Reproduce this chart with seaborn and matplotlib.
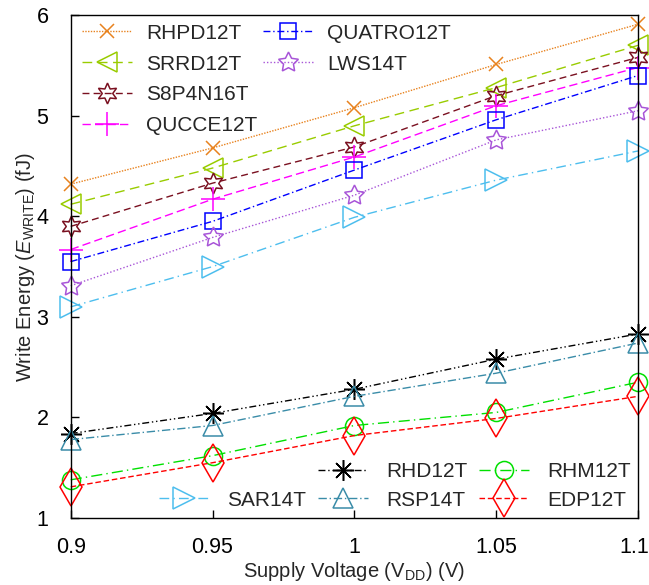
import numpy as np
import pandas as pd
import matplotlib
matplotlib.use("Agg")
import matplotlib.pyplot as plt
import matplotlib.transforms as mtransforms
import seaborn as sns
from matplotlib.lines import Line2D
from matplotlib.ticker import FixedLocator, FixedFormatter

# ---------------- data ----------------
vdd = [0.9, 0.95, 1.0, 1.05, 1.1]
x_tick_labels = ["0.9", "0.95", "1", "1.05", "1.1"]
y_ticks = [1, 2, 3, 4, 5, 6]

rhpd12t = [4.32, 4.68, 5.08, 5.51, 5.91]
srrd12t = [4.12, 4.48, 4.90, 5.28, 5.70]
s8p4n16t = [3.90, 4.33, 4.69, 5.20, 5.58]
qucce12t = [3.67, 4.17, 4.59, 5.10, 5.48]
quatro12t = [3.55, 3.95, 4.46, 4.96, 5.40]
lws14t = [3.31, 3.79, 4.21, 4.76, 5.05]
sar14t = [3.10, 3.50, 3.99, 4.36, 4.65]
rhd12t = [1.84, 2.04, 2.28, 2.58, 2.83]
rsp14t = [1.78, 1.92, 2.21, 2.44, 2.74]
rhm12t = [1.38, 1.62, 1.92, 2.05, 2.35]
edp12t = [1.31, 1.55, 1.82, 1.99, 2.21]

series = [
    ("RHPD12T", rhpd12t, "#E8821E", "x", (0, (1, 1)), 10),
    ("SRRD12T", srrd12t, "#99CC00", "<", (0, (7, 4)), 15),
    ("S8P4N16T", s8p4n16t, "#7A1020", (6, 1, 0), (0, (5, 3)), 15),
    ("QUCCE12T", qucce12t, "#FF00FF", "+", (0, (6, 3)), 17),
    ("QUATRO12T", quatro12t, "#0000FF", "s", (0, (5, 2, 1, 2)), 11),
    ("LWS14T", lws14t, "#A855D8", (5, 1, 0), (0, (1, 1.5)), 15),
    ("SAR14T", sar14t, "#4DBEEE", ">", (0, (7, 3, 1, 3)), 16),
    ("RHD12T", rhd12t, "#000000", (8, 2, 0), (0, (5, 2, 1, 2, 1, 2)), 15),
    ("RSP14T", rsp14t, "#3A8CA8", "^", (0, (6, 2, 1, 2)), 15),
    ("RHM12T", rhm12t, "#00E000", "o", (0, (8, 3, 1, 3)), 13),
    ("EDP12T", edp12t, "#FF0000", "d", (0, (4, 2)), 19),
]

# ---------------- style ----------------
sns.set_theme(style="white")
plt.rcParams["font.family"] = ["Liberation Sans", "DejaVu Sans"]
plt.rcParams["mathtext.fontset"] = "custom"
plt.rcParams["mathtext.rm"] = "Liberation Sans"
plt.rcParams["mathtext.it"] = "Liberation Sans:italic"

fig = plt.figure(figsize=(6.49, 5.85), dpi=100)
ax = fig.add_axes([0.109, 0.1145, 0.874, 0.8595])

handles = {}
for name, vals, color, marker, ls, ms in series:
    df = pd.DataFrame({"V": vdd, "E": vals})
    sns.lineplot(data=df, x="V", y="E", ax=ax, color=color, marker=marker,
                 linestyle=ls, linewidth=1.0, markersize=ms,
                 markerfacecolor="none", markeredgecolor=color,
                 markeredgewidth=1.1, legend=False, label=name, clip_on=False)
    handles[name] = ax.lines[-1]

ax.set_xlim(0.9, 1.1)
ax.set_ylim(1, 6)
ax.xaxis.set_major_locator(FixedLocator(vdd))
ax.xaxis.set_major_formatter(FixedFormatter(x_tick_labels))
ax.yaxis.set_major_locator(FixedLocator(y_ticks))
ax.yaxis.set_major_formatter(FixedFormatter([str(t) for t in y_ticks]))
ax.tick_params(axis="both", direction="in", length=6, width=1, colors="black",
               labelsize=15.5, bottom=True, left=True, top=False, right=False)
ax.tick_params(axis="x", pad=14)
ax.tick_params(axis="y", pad=16)
for s in ax.spines.values():
    s.set_color("black")
    s.set_linewidth(1.0)

# nudge the last x tick label slightly left so it stays inside the figure
last_lbl = ax.get_xticklabels()[-1]
last_lbl.set_transform(last_lbl.get_transform() +
                       mtransforms.ScaledTranslation(-4 / 100, 0, fig.dpi_scale_trans))

ax.set_xlabel(r"Supply Voltage (V$_{\mathrm{DD}}$) (V)", fontsize=14.5, labelpad=1)
ax.set_ylabel(r"Write Energy ($\mathit{E}_{\mathrm{WRITE}}$) (fJ)", fontsize=14.5, labelpad=0)

# legend 1 (upper left)
names1 = ["RHPD12T", "SRRD12T", "S8P4N16T", "QUCCE12T", "QUATRO12T", "LWS14T"]
blank1 = Line2D([], [], linestyle="none", marker=None)
h1 = [handles[n] for n in names1] + [blank1, blank1]
l1 = names1 + ["", ""]
leg1 = ax.legend(h1, l1, ncol=2, loc="upper left", bbox_to_anchor=(-0.003, 1.008),
                 frameon=False, fontsize=15, handlelength=2.4, handletextpad=0.7,
                 labelspacing=0.57, columnspacing=0.25, borderaxespad=0.2)
ax.add_artist(leg1)

# legend 2 (lower right)
blank2 = Line2D([], [], linestyle="none", marker=None)
h2 = [blank2, handles["SAR14T"], handles["RHD12T"], handles["RSP14T"],
      handles["RHM12T"], handles["EDP12T"]]
l2 = ["", "SAR14T", "RHD12T", "RSP14T", "RHM12T", "EDP12T"]
leg2 = ax.legend(h2, l2, ncol=3, loc="lower right", bbox_to_anchor=(1.01, -0.008),
                 frameon=False, fontsize=15, handlelength=2.4, handletextpad=0.87,
                 labelspacing=0.45, columnspacing=0.58, borderaxespad=0.2)

fig.savefig("out.png", dpi=100, facecolor="white")
